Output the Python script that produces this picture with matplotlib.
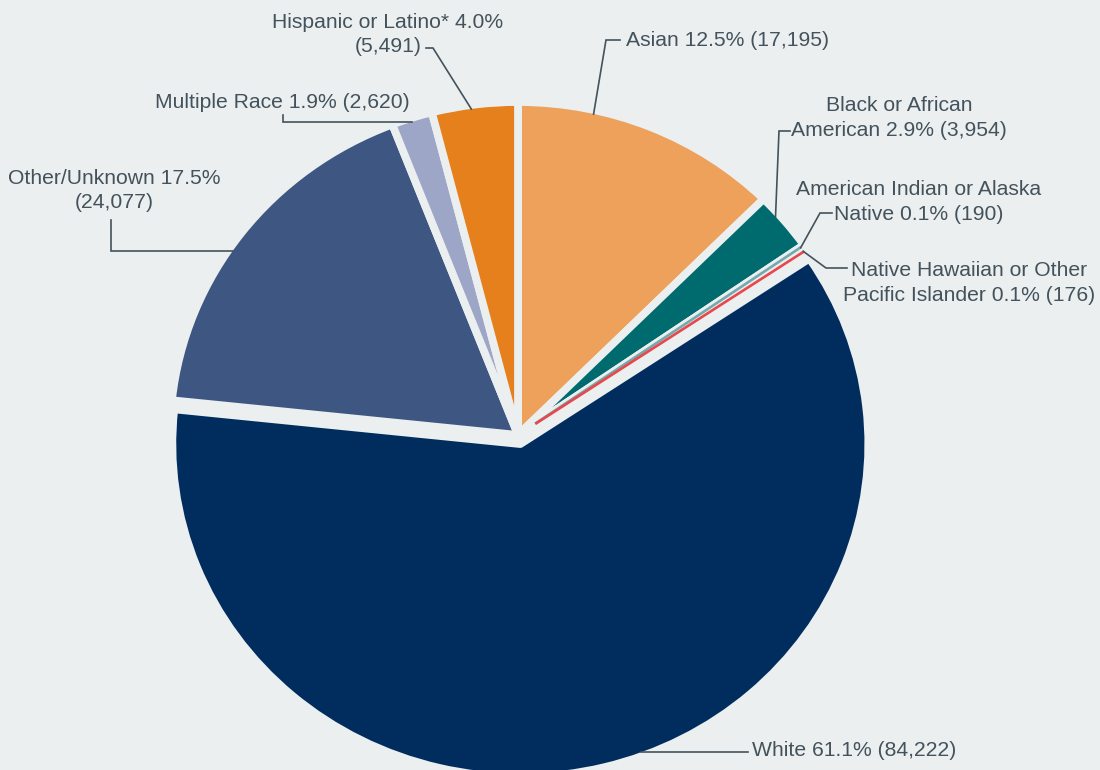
import matplotlib
matplotlib.use('Agg')
import matplotlib.pyplot as plt
import numpy as np

# ---------------- data ----------------
categories = ['Asian', 'Black or African American', 'American Indian or Alaska Native',
              'Native Hawaiian or Other Pacific Islander', 'White', 'Other/Unknown',
              'Multiple Race', 'Hispanic or Latino*']
counts = [17195, 3954, 190, 176, 84222, 24077, 2620, 5491]
percents = [12.5, 2.9, 0.1, 0.1, 61.1, 17.5, 1.9, 4.0]
label_texts = [
    'Asian 12.5% (17,195)',
    'Black or African\nAmerican 2.9% (3,954)',
    'American Indian or Alaska\nNative 0.1% (190)',
    'Native Hawaiian or Other\nPacific Islander 0.1% (176)',
    'White 61.1% (84,222)',
    'Other/Unknown 17.5%\n(24,077)',
    'Multiple Race 1.9% (2,620)',
    'Hispanic or Latino* 4.0%\n(5,491)',
]
colors = ['#EEA15B', '#006B6E', '#72AAAE', '#E8474B', '#002D5E', '#3E5782', '#9DA6C6', '#E5801C']
explode = [0, 0, 0, 0, 0.028, 0, 0, 0]

# ---------------- style / layout ----------------
BG = '#EBEFF0'
TXT = '#44525C'
LINE = '#44525C'
W, H = 1100, 770
CX, CY, RX, RY = 518, 435, 348, 333   # pie centre and radii in pixels
GAP_PT = 5.6

fig = plt.figure(figsize=(W / 100, H / 100), dpi=100, facecolor=BG)
ax = fig.add_axes([0, 0, 1, 1])
ax.set_facecolor(BG)

wedges, _ = ax.pie(counts, startangle=90, counterclock=False, colors=colors,
                   explode=explode, radius=1,
                   wedgeprops=dict(edgecolor=BG, linewidth=GAP_PT, joinstyle='round'))
ax.set_aspect('auto')
ax.set_xlim(-CX / RX, (W - CX) / RX)
ax.set_ylim((CY - H) / RY, CY / RY)
ax.axis('off')


def P(px, py):
    return (px - CX) / RX, (CY - py) / RY


# wedge angles (data driven)
frac = np.array(counts) / np.sum(counts)
cum = np.concatenate([[0], np.cumsum(frac)])
start_ang = 90 - 360 * cum[:-1]
end_ang = 90 - 360 * cum[1:]
mid_ang = (start_ang + end_ang) / 2

# thin colored lines for the two tiny slices so they remain visible
for i, ang in ((2, start_ang[2] - 0.05), (3, end_ang[3])):
    a = np.deg2rad(ang)
    r = np.array([0.06, 0.99])
    ax.plot(r * np.cos(a), r * np.sin(a), color=colors[i], lw=1.9,
            solid_capstyle='butt', zorder=3)

R_EDGE = 1 - 4 / RY


def edge_pt(i, ang):
    a = np.deg2rad(ang)
    ex = explode[i] * np.cos(np.deg2rad(mid_ang[i]))
    ey = explode[i] * np.sin(np.deg2rad(mid_ang[i]))
    return ex + R_EDGE * np.cos(a), ey + R_EDGE * np.sin(a)


def edge_at_y(i, py, side):
    ex = explode[i] * np.cos(np.deg2rad(mid_ang[i]))
    ey = explode[i] * np.sin(np.deg2rad(mid_ang[i]))
    _, Y = P(0, py)
    X = np.sqrt(max(R_EDGE ** 2 - (Y - ey) ** 2, 0))
    return ex + side * X, Y


# leader lines: anchor on slice, then elbow points (pixels)
anchor_ang = {0: 77.3, 1: 41.5, 2: start_ang[2] - 0.1, 3: end_ang[3] + 0.1, 7: 97.8}
leaders = {
    0: [(606, 40), (620, 40)],
    1: [(779, 131), (790, 131)],
    2: [(820, 213), (832, 213)],
    3: [(826, 268), (847, 268)],
    7: [(433, 48), (426, 48)],
}
for i, pts in leaders.items():
    ax_, ay_ = edge_pt(i, anchor_ang[i])
    xs = [ax_] + [P(*p)[0] for p in pts]
    ys = [ay_] + [P(*p)[1] for p in pts]
    ax.plot(xs, ys, color=LINE, lw=1.2, zorder=4, solid_joinstyle='miter')

# horizontal leaders
hor = {4: (752, [(748, 752)], 1), 5: (251, [(111, 251), (111, 220)], -1),
       6: (122, [(283, 122), (283, 115)], -1)}
for i, (py, pts, side) in hor.items():
    ax_, ay_ = edge_at_y(i, py, side)
    xs = [ax_] + [P(*p)[0] for p in pts]
    ys = [ay_] + [P(*p)[1] for p in pts]
    ax.plot(xs, ys, color=LINE, lw=1.2, zorder=4, solid_joinstyle='miter')

# label texts (pixel layout)
text_pos = [
    (626, 40, 'left'),
    (899, 118, 'center'),
    (919, 202, 'center'),
    (969, 283, 'center'),
    (752, 751, 'left'),
    (114, 190.5, 'center'),
    (155, 103, 'left'),
    (388, 34.5, 'center'),
]
for s, (px, py, ha) in zip(label_texts, text_pos):
    x, y = P(px, py)
    ax.text(x, y, s, ha=ha, va='center', multialignment='center',
            fontsize=15.2, color=TXT, family=['Liberation Sans', 'DejaVu Sans'],
            linespacing=1.35, zorder=5)

fig.savefig('out.png', dpi=100, facecolor=BG)
